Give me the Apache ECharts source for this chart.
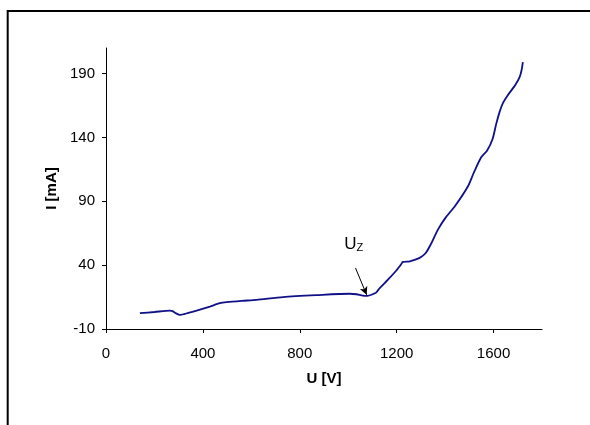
<!DOCTYPE html>
<html>
<head>
<meta charset="utf-8">
<script src="https://cdn.jsdelivr.net/npm/echarts@6/dist/echarts.min.js"></script>
<style>
  html, body { margin: 0; padding: 0; background: #fff; }
  #chart { width: 590px; height: 425px; }
</style>
</head>
<body>
<div id="chart"></div>
<script>
// Current-voltage characteristic: U [V] vs I [mA]
const voltage = [140, 200, 264, 275, 290, 305, 340, 374, 429, 470, 498, 560, 621, 731, 869, 1006, 1034, 1060, 1080, 1096, 1115, 1130, 1164, 1195, 1216, 1226, 1254, 1295, 1320, 1340, 1371, 1402, 1441, 1495, 1519, 1549, 1573, 1596, 1611, 1625, 1639, 1658, 1689, 1708, 1716, 1721];
const current = [2.4, 3.3, 4.4, 4.0, 2.2, 1.0, 2.6, 4.4, 7.6, 10.2, 11.0, 12.0, 12.8, 15.0, 16.5, 17.6, 17.2, 16.2, 16.0, 16.8, 18.5, 22, 28.6, 35, 40, 42.5, 43, 45.7, 49.5, 56, 68, 77.2, 86.3, 102, 112.6, 124.4, 129.6, 138.8, 150.6, 160, 167, 172.9, 180.8, 187.4, 193, 199];

const xTicks = [0, 400, 800, 1200, 1600];
const yTicks = [-10, 40, 90, 140, 190];

// Breakdown voltage marker: label position and arrow from label to the curve
const uzLabelPoint = [1023, 58];
const uzArrow = [[1030, 37.8], [1076, 16.8]];

const points = voltage.map((u, i) => [u, current[i]]);

const chart = echarts.init(document.getElementById('chart'));
const font = 'Liberation Sans, Arial, sans-serif';
const plain = v => String(v);

chart.setOption({
  animation: false,
  backgroundColor: '#fff',
  grid: { left: 106, right: 48, top: 48, bottom: 96 },
  graphic: [{
    type: 'rect',
    shape: { x: 7.7, y: 11, width: 700, height: 600 },
    style: { fill: 'none', stroke: '#000', lineWidth: 2 },
    silent: true
  }],
  xAxis: {
    type: 'value',
    min: 0, max: 1800,
    name: 'U [V]',
    nameLocation: 'middle',
    nameGap: 42,
    nameTextStyle: { fontFamily: font, fontSize: 15, fontWeight: 'bold', color: '#000' },
    axisLine: { onZero: false, lineStyle: { color: '#000', width: 1 } },
    axisTick: { show: true, length: 4, customValues: xTicks, lineStyle: { color: '#000' } },
    axisLabel: { customValues: xTicks, formatter: plain, margin: 17, fontFamily: font, fontSize: 15, color: '#000' },
    splitLine: { show: false }
  },
  yAxis: {
    type: 'value',
    min: -10, max: 210,
    name: 'I [mA]',
    nameLocation: 'middle',
    nameGap: 47,
    nameRotate: 90,
    nameTextStyle: { fontFamily: font, fontSize: 15, fontWeight: 'bold', color: '#000' },
    axisLine: { show: true, onZero: false, lineStyle: { color: '#000', width: 1 } },
    axisTick: { show: true, length: 4, customValues: yTicks, lineStyle: { color: '#000' } },
    axisLabel: { customValues: yTicks, formatter: plain, margin: 11, fontFamily: font, fontSize: 15, color: '#000' },
    splitLine: { show: false }
  },
  series: [{
    type: 'line',
    data: points,
    showSymbol: false,
    smooth: 0.25,
    lineStyle: { color: '#101088', width: 1.8 },
    markLine: {
      silent: true,
      symbol: ['none', 'arrow'],
      symbolSize: [6, 8],
      label: { show: false },
      lineStyle: { color: '#000', width: 1, type: 'solid' },
      data: [[{ coord: uzArrow[0] }, { coord: uzArrow[1] }]]
    },
    markPoint: {
      silent: true,
      symbol: 'circle',
      symbolSize: 1,
      itemStyle: { color: 'rgba(0,0,0,0)' },
      label: {
        show: true,
        position: 'inside',
        formatter: '{u|U}{z|Z}',
        rich: {
          u: { fontFamily: font, fontSize: 17, color: '#000', verticalAlign: 'bottom', lineHeight: 22 },
          z: { fontFamily: font, fontSize: 11, color: '#000', verticalAlign: 'bottom', lineHeight: 15 }
        }
      },
      data: [{ coord: uzLabelPoint }]
    }
  }]
});
</script>
</body>
</html>
